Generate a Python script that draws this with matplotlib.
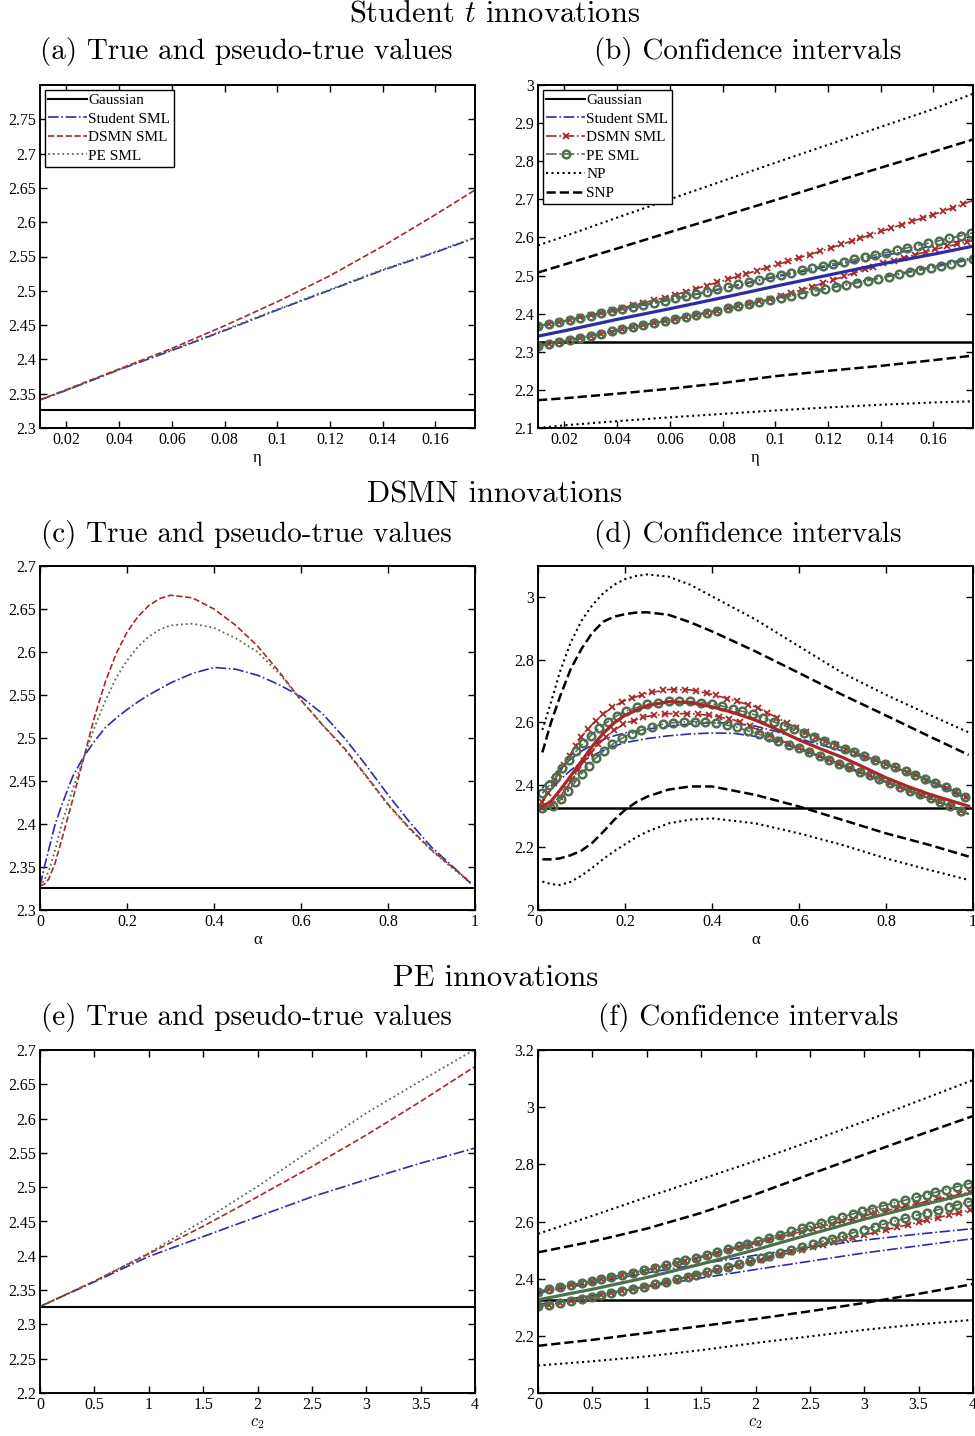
import matplotlib
matplotlib.use("Agg")
import numpy as np
import matplotlib.pyplot as plt
from matplotlib.lines import Line2D
from matplotlib.path import Path

plt.rcParams['font.family'] = ['Liberation Serif', 'DejaVu Serif']
plt.rcParams['mathtext.fontset'] = 'cm'

# colours
BLUE = '#2c2ca6'
RED = '#a8282a'
GREEN = '#4f6f4f'

GAUSS = 2.326

# ---- (a) Student t innovations: true and pseudo-true values
a_x = [0.01, 0.02, 0.04, 0.06, 0.08, 0.10, 0.12, 0.14, 0.16, 0.175]
a_student = [2.341, 2.355, 2.385, 2.413, 2.442, 2.472, 2.501, 2.530, 2.556, 2.577]
a_dsmn = [2.341, 2.356, 2.386, 2.416, 2.449, 2.484, 2.522, 2.565, 2.611, 2.647]
a_pe = [2.341, 2.355, 2.385, 2.414, 2.443, 2.473, 2.502, 2.531, 2.557, 2.578]

# ---- (b) Student t innovations: confidence intervals
b_x = [0.01, 0.02, 0.04, 0.06, 0.08, 0.10, 0.12, 0.14, 0.16, 0.175]
b_true = [2.341, 2.355, 2.385, 2.413, 2.442, 2.472, 2.501, 2.530, 2.556, 2.577]
b_stu_hi = [2.368, 2.381, 2.408, 2.436, 2.465, 2.496, 2.524, 2.551, 2.578, 2.597]
b_stu_lo = [2.315, 2.328, 2.356, 2.384, 2.411, 2.440, 2.467, 2.495, 2.524, 2.547]
b_dsmn_hi = [2.368, 2.381, 2.412, 2.445, 2.486, 2.527, 2.570, 2.616, 2.660, 2.697]
b_dsmn_lo = [2.315, 2.328, 2.356, 2.383, 2.411, 2.441, 2.484, 2.530, 2.568, 2.592]
b_pe_hi = [2.368, 2.381, 2.409, 2.437, 2.467, 2.499, 2.528, 2.557, 2.588, 2.612]
b_pe_lo = [2.316, 2.329, 2.356, 2.384, 2.411, 2.439, 2.466, 2.493, 2.521, 2.543]
b_np_hi = [2.579, 2.603, 2.652, 2.700, 2.748, 2.796, 2.843, 2.890, 2.937, 2.977]
b_np_lo = [2.100, 2.107, 2.118, 2.128, 2.137, 2.146, 2.154, 2.161, 2.167, 2.170]
b_snp_hi = [2.508, 2.529, 2.571, 2.614, 2.656, 2.698, 2.741, 2.783, 2.825, 2.857]
b_snp_lo = [2.173, 2.178, 2.190, 2.203, 2.218, 2.236, 2.250, 2.263, 2.278, 2.290]

# ---- (c) DSMN innovations: true and pseudo-true values
c_x = [0.0, 0.01, 0.02, 0.035, 0.05, 0.075, 0.1, 0.125, 0.15, 0.175, 0.2, 0.225,
       0.25, 0.275, 0.3, 0.35, 0.4, 0.45, 0.5, 0.55, 0.6, 0.65, 0.7, 0.75, 0.8,
       0.85, 0.9, 0.95, 0.99]
c_student = [2.328, 2.350, 2.370, 2.400, 2.422, 2.455, 2.478, 2.496, 2.512, 2.523,
             2.533, 2.542, 2.550, 2.557, 2.564, 2.575, 2.582, 2.580, 2.573, 2.562,
             2.548, 2.528, 2.500, 2.468, 2.434, 2.402, 2.373, 2.350, 2.331]
c_dsmn = [2.328, 2.330, 2.336, 2.355, 2.382, 2.428, 2.476, 2.524, 2.565, 2.598,
          2.623, 2.641, 2.654, 2.662, 2.666, 2.663, 2.650, 2.631, 2.607, 2.577,
          2.544, 2.515, 2.488, 2.456, 2.423, 2.395, 2.370, 2.349, 2.332]
c_pe = [2.327, 2.335, 2.345, 2.370, 2.400, 2.440, 2.476, 2.512, 2.543, 2.570,
        2.590, 2.606, 2.618, 2.626, 2.631, 2.633, 2.628, 2.616, 2.600, 2.575,
        2.544, 2.515, 2.487, 2.455, 2.422, 2.394, 2.369, 2.348, 2.331]

# ---- (d) DSMN innovations: confidence intervals
d_x = [0.01, 0.03, 0.05, 0.075, 0.1, 0.125, 0.15, 0.175, 0.2, 0.25, 0.3, 0.35, 0.4,
       0.45, 0.5, 0.55, 0.6, 0.65, 0.7, 0.75, 0.8, 0.85, 0.9, 0.95, 0.99]
d_true = [2.330, 2.348, 2.382, 2.428, 2.476, 2.524, 2.565, 2.598, 2.623, 2.653,
          2.666, 2.663, 2.650, 2.631, 2.607, 2.577, 2.544, 2.515, 2.488, 2.456,
          2.423, 2.395, 2.370, 2.349, 2.332]
d_stu_hi = [2.390, 2.420, 2.450, 2.482, 2.508, 2.528, 2.545, 2.557, 2.566, 2.578,
            2.588, 2.595, 2.599, 2.597, 2.588, 2.570, 2.548, 2.528, 2.508, 2.489,
            2.467, 2.440, 2.410, 2.380, 2.352]
d_stu_lo = [2.350, 2.385, 2.415, 2.447, 2.473, 2.494, 2.510, 2.524, 2.535, 2.548,
            2.557, 2.563, 2.566, 2.565, 2.555, 2.537, 2.515, 2.488, 2.460, 2.434,
            2.408, 2.382, 2.356, 2.330, 2.308]
d_dsmn_hi = [2.345, 2.390, 2.440, 2.500, 2.555, 2.595, 2.627, 2.652, 2.670, 2.693,
             2.705, 2.704, 2.690, 2.670, 2.650, 2.615, 2.577, 2.546, 2.518, 2.492,
             2.467, 2.441, 2.414, 2.385, 2.357]
d_dsmn_lo = [2.325, 2.335, 2.360, 2.410, 2.465, 2.510, 2.545, 2.575, 2.597, 2.619,
             2.628, 2.628, 2.622, 2.608, 2.580, 2.547, 2.518, 2.491, 2.464, 2.437,
             2.411, 2.384, 2.358, 2.331, 2.306]
d_pe_hi = [2.373, 2.405, 2.443, 2.487, 2.528, 2.563, 2.592, 2.616, 2.635, 2.658,
           2.667, 2.667, 2.660, 2.643, 2.624, 2.598, 2.571, 2.545, 2.518, 2.492,
           2.467, 2.441, 2.414, 2.385, 2.357]
d_pe_lo = [2.325, 2.330, 2.350, 2.390, 2.436, 2.476, 2.507, 2.534, 2.555, 2.582,
           2.598, 2.603, 2.600, 2.587, 2.566, 2.542, 2.518, 2.491, 2.464, 2.437,
           2.411, 2.384, 2.358, 2.331, 2.306]
d_x2 = [0.01, 0.03, 0.05, 0.075, 0.1, 0.125, 0.15, 0.175, 0.2, 0.225, 0.25, 0.3,
        0.35, 0.4, 0.5, 0.6, 0.7, 0.8, 0.9, 0.99]
d_np_hi = [2.576, 2.665, 2.760, 2.855, 2.925, 2.975, 3.013, 3.040, 3.058, 3.068,
           3.073, 3.066, 3.040, 3.003, 2.929, 2.843, 2.758, 2.688, 2.624, 2.568]
d_np_lo = [2.091, 2.083, 2.080, 2.090, 2.110, 2.135, 2.163, 2.188, 2.210, 2.232,
           2.250, 2.277, 2.289, 2.293, 2.277, 2.245, 2.208, 2.165, 2.128, 2.096]
d_snp_hi = [2.504, 2.600, 2.680, 2.770, 2.835, 2.887, 2.922, 2.938, 2.946, 2.951,
            2.952, 2.944, 2.920, 2.891, 2.827, 2.758, 2.688, 2.622, 2.555, 2.496]
d_snp_lo = [2.162, 2.162, 2.165, 2.175, 2.190, 2.215, 2.250, 2.288, 2.320, 2.344,
            2.362, 2.385, 2.395, 2.395, 2.368, 2.331, 2.288, 2.245, 2.208, 2.171]

# ---- (e) PE innovations: true and pseudo-true values
e_x = [0, 0.5, 1, 1.5, 2, 2.5, 3, 3.5, 4]
e_student = [2.326, 2.362, 2.399, 2.428, 2.457, 2.486, 2.511, 2.535, 2.557]
e_dsmn = [2.326, 2.363, 2.403, 2.443, 2.486, 2.530, 2.576, 2.625, 2.676]
e_pe = [2.326, 2.363, 2.404, 2.451, 2.501, 2.555, 2.608, 2.655, 2.701]

# ---- (f) PE innovations: confidence intervals
f_x = [0, 0.5, 1, 1.5, 2, 2.5, 3, 3.5, 4]
f_true = [2.326, 2.363, 2.404, 2.451, 2.501, 2.555, 2.608, 2.655, 2.701]
f_stu_hi = [2.350, 2.385, 2.420, 2.452, 2.482, 2.510, 2.535, 2.556, 2.575]
f_stu_lo = [2.310, 2.342, 2.372, 2.402, 2.432, 2.461, 2.490, 2.515, 2.540]
f_dsmn_hi = [2.355, 2.392, 2.430, 2.475, 2.524, 2.572, 2.620, 2.664, 2.705]
f_dsmn_lo = [2.303, 2.336, 2.373, 2.416, 2.462, 2.508, 2.553, 2.598, 2.642]
f_pe_hi = [2.355, 2.392, 2.431, 2.478, 2.530, 2.584, 2.638, 2.687, 2.736]
f_pe_lo = [2.303, 2.336, 2.374, 2.418, 2.466, 2.518, 2.572, 2.624, 2.672]
f_np_hi = [2.557, 2.620, 2.685, 2.748, 2.812, 2.880, 2.950, 3.022, 3.095]
f_np_lo = [2.096, 2.111, 2.128, 2.150, 2.175, 2.198, 2.221, 2.240, 2.256]
f_snp_hi = [2.492, 2.530, 2.575, 2.630, 2.695, 2.765, 2.834, 2.902, 2.969]
f_snp_lo = [2.165, 2.186, 2.210, 2.234, 2.259, 2.286, 2.315, 2.347, 2.381]

# ticks
eta_ticks = [0.02, 0.04, 0.06, 0.08, 0.1, 0.12, 0.14, 0.16]
eta_labels = ['0.02', '0.04', '0.06', '0.08', '0.1', '0.12', '0.14', '0.16']
alpha_ticks = [0, 0.2, 0.4, 0.6, 0.8, 1]
alpha_labels = ['0', '0.2', '0.4', '0.6', '0.8', '1']
c2_ticks = [0, 0.5, 1, 1.5, 2, 2.5, 3, 3.5, 4]
c2_labels = ['0', '0.5', '1', '1.5', '2', '2.5', '3', '3.5', '4']
ya_ticks = [2.3, 2.35, 2.4, 2.45, 2.5, 2.55, 2.6, 2.65, 2.7, 2.75]
ya_labels = ['2.3', '2.35', '2.4', '2.45', '2.5', '2.55', '2.6', '2.65', '2.7', '2.75']
yb_ticks = [2.1, 2.2, 2.3, 2.4, 2.5, 2.6, 2.7, 2.8, 2.9, 3.0]
yb_labels = ['2.1', '2.2', '2.3', '2.4', '2.5', '2.6', '2.7', '2.8', '2.9', '3']
yc_ticks = [2.3, 2.35, 2.4, 2.45, 2.5, 2.55, 2.6, 2.65, 2.7]
yc_labels = ['2.3', '2.35', '2.4', '2.45', '2.5', '2.55', '2.6', '2.65', '2.7']
yd_ticks = [2.0, 2.2, 2.4, 2.6, 2.8, 3.0]
yd_labels = ['2', '2.2', '2.4', '2.6', '2.8', '3']
ye_ticks = [2.2, 2.25, 2.3, 2.35, 2.4, 2.45, 2.5, 2.55, 2.6, 2.65, 2.7]
ye_labels = ['2.2', '2.25', '2.3', '2.35', '2.4', '2.45', '2.5', '2.55', '2.6', '2.65', '2.7']
yf_ticks = [2.0, 2.2, 2.4, 2.6, 2.8, 3.0, 3.2]
yf_labels = ['2', '2.2', '2.4', '2.6', '2.8', '3', '3.2']

fig = plt.figure(figsize=(9.75, 14.36), dpi=100)
W, H = 975.0, 1436.0


def make_ax(x0, x1, top, bot):
    return fig.add_axes([x0 / W, 1 - bot / H, (x1 - x0) / W, (bot - top) / H])


def style(ax, xlim, ylim, xt, xl, yt, yl, xlabel):
    ax.set_xlim(xlim)
    ax.set_ylim(ylim)
    ax.set_xticks(xt)
    ax.set_xticklabels(xl)
    ax.set_yticks(yt)
    ax.set_yticklabels(yl)
    ax.tick_params(direction='in', top=True, right=True, length=5, width=1,
                   labelsize=11.5, pad=3)
    for s in ax.spines.values():
        s.set_linewidth(1.4)
    ax.set_xlabel(xlabel, fontsize=12, labelpad=1)


def truth_panel(ax, x, stu, dsmn, pe):
    ax.axhline(GAUSS, color='black', lw=1.5)
    ax.plot(x, stu, color=BLUE, ls='-.', lw=1.2)
    ax.plot(x, dsmn, color=RED, ls='--', lw=1.2)
    ax.plot(x, pe, color=GREEN, ls=':', lw=1.3)


ME = 0.0195


def marked(ax, x, y, **kw):
    # subdivide the polyline (same shape) so markers can sit evenly along it
    p = Path(np.column_stack([x, y])).interpolated(20)
    ax.plot(p.vertices[:, 0], p.vertices[:, 1], markevery=ME, **kw)


def ci_panel(ax, x, true, tcol, stu, dsmn, pe, x2, np_b, snp_b):
    ax.axhline(GAUSS, color='black', lw=1.8)
    for y in stu:
        ax.plot(x, y, color=BLUE, ls='-.', lw=1.2)
    for y in dsmn:
        marked(ax, x, y, color=RED, ls='-.', lw=1.2, marker='x', ms=5, mew=1.3)
    for y in pe:
        marked(ax, x, y, color=GREEN, ls='-.', lw=1.2, marker='o', ms=5.5,
               mew=1.8, mfc='none')
    for y in np_b:
        ax.plot(x2, y, color='black', ls=':', lw=1.5)
    for y in snp_b:
        ax.plot(x2, y, color='black', ls='--', lw=1.8)
    ax.plot(x, true, color=tcol, lw=2.3)


def leg(ax, full):
    hs = [Line2D([], [], color='black', lw=1.5, label='Gaussian')]
    if full:
        hs += [Line2D([], [], color=BLUE, ls='-.', lw=1.2, label='Student SML'),
               Line2D([], [], color=RED, ls='-.', lw=1.2, marker='x', ms=5,
                      mew=1.3, label='DSMN SML'),
               Line2D([], [], color=GREEN, ls='-.', lw=1.2, marker='o', ms=5.5,
                      mew=1.8, mfc='none', label='PE SML'),
               Line2D([], [], color='black', ls=':', lw=1.5, label='NP'),
               Line2D([], [], color='black', ls='--', lw=1.8, label='SNP')]
    else:
        hs += [Line2D([], [], color=BLUE, ls='-.', lw=1.2, label='Student SML'),
               Line2D([], [], color=RED, ls='--', lw=1.2, label='DSMN SML'),
               Line2D([], [], color=GREEN, ls=':', lw=1.3, label='PE SML')]
    lg = ax.legend(handles=hs, loc='upper left', fontsize=11, numpoints=1,
                   fancybox=False, framealpha=1, edgecolor='black',
                   borderpad=0.25, labelspacing=0.32, handlelength=2.5,
                   handletextpad=0.1, borderaxespad=0.3)
    lg.get_frame().set_linewidth(1.0)


# panel (a)
ax = make_ax(40, 475, 85, 428)
truth_panel(ax, a_x, a_student, a_dsmn, a_pe)
style(ax, (0.01, 0.175), (2.3, 2.8), eta_ticks, eta_labels, ya_ticks, ya_labels, 'η')
leg(ax, False)

# panel (b)
ax = make_ax(538, 973, 85, 428)
ci_panel(ax, b_x, b_true, BLUE, [b_stu_hi, b_stu_lo], [b_dsmn_hi, b_dsmn_lo],
         [b_pe_hi, b_pe_lo], b_x, [b_np_hi, b_np_lo], [b_snp_hi, b_snp_lo])
style(ax, (0.01, 0.175), (2.1, 3.0), eta_ticks, eta_labels, yb_ticks, yb_labels, 'η')
leg(ax, True)

# panel (c)
ax = make_ax(40, 475, 566, 910)
truth_panel(ax, c_x, c_student, c_dsmn, c_pe)
style(ax, (0, 1), (2.3, 2.7), alpha_ticks, alpha_labels, yc_ticks, yc_labels, 'α')

# panel (d)
ax = make_ax(538, 973, 566, 910)
ci_panel(ax, d_x, d_true, RED, [d_stu_hi, d_stu_lo], [d_dsmn_hi, d_dsmn_lo],
         [d_pe_hi, d_pe_lo], d_x2, [d_np_hi, d_np_lo], [d_snp_hi, d_snp_lo])
style(ax, (0, 1), (2.0, 3.1), alpha_ticks, alpha_labels, yd_ticks, yd_labels, 'α')

# panel (e)
ax = make_ax(40, 475, 1050, 1393)
truth_panel(ax, e_x, e_student, e_dsmn, e_pe)
style(ax, (0, 4), (2.2, 2.7), c2_ticks, c2_labels, ye_ticks, ye_labels, '$c_2$')

# panel (f)
ax = make_ax(538, 973, 1050, 1393)
ci_panel(ax, f_x, f_true, GREEN, [f_stu_hi, f_stu_lo], [f_dsmn_hi, f_dsmn_lo],
         [f_pe_hi, f_pe_lo], f_x, [f_np_hi, f_np_lo], [f_snp_hi, f_snp_lo])
style(ax, (0, 4), (2.0, 3.2), c2_ticks, c2_labels, yf_ticks, yf_labels, '$c_2$')

# titles
fig.text(495 / W, 1 - 14 / H, 'Student $t$ innovations', family='cmr10',
         fontsize=22, ha='center', va='center')
fig.text(495 / W, 1 - 495 / H, 'DSMN innovations', family='cmr10',
         fontsize=22, ha='center', va='center')
fig.text(496 / W, 1 - 978 / H, 'PE innovations', family='cmr10',
         fontsize=22, ha='center', va='center')
for yy, l1, l2 in [(52, '(a)', '(b)'), (535, '(c)', '(d)'), (1017, '(e)', '(f)')]:
    fig.text(246 / W, 1 - yy / H, l1 + ' True and pseudo-true values', family='cmr10',
             fontsize=21, ha='center', va='center')
    fig.text(748 / W, 1 - yy / H, l2 + ' Confidence intervals', family='cmr10',
             fontsize=21, ha='center', va='center')

plt.savefig('out.png', dpi=100)
